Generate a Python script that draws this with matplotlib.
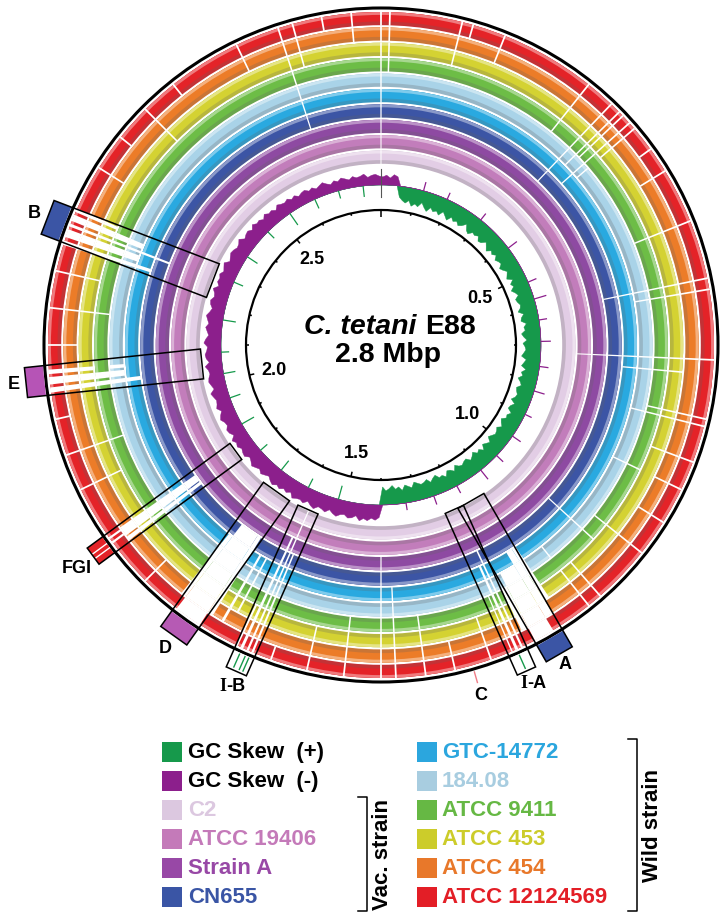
import numpy as np
import matplotlib.pyplot as plt
import matplotlib.colors as mcolors
from matplotlib.patches import Wedge, Circle, Polygon, Rectangle
from matplotlib.collections import LineCollection

plt.rcParams['font.family'] = ['Liberation Sans', 'DejaVu Sans']

GENOME = 2.8  # Mbp, C. tetani E88

# ---- BLAST rings, outermost first ----
ring_names = ['ATCC 12124569', 'ATCC 454', 'ATCC 453', 'ATCC 9411', '184.08',
              'GTC-14772', 'CN655', 'Strain A', 'ATCC 19406', 'C2']
ring_colors = ['#e42328', '#ec7c28', '#d4d232', '#6dbd46', '#a9d3e8',
               '#29a9e0', '#3c55a5', '#8e4aa2', '#c27dbb', '#e2cde5']

# regions without hits: start, end (Mbp), rings that miss it (0 = outermost)
gap_start = [2.236, 2.247, 2.262, 2.270, 2.283,
             2.036, 2.047, 2.061,
             1.806, 1.814, 1.816, 1.823,
             1.648, 1.656, 1.694, 1.618, 1.630,
             1.575, 1.582, 1.590, 1.598,
             1.138, 1.146, 1.158, 1.186,
             1.204, 1.211, 1.219]
gap_end = [2.242, 2.258, 2.266, 2.279, 2.288,
           2.043, 2.057, 2.067,
           1.812, 1.828, 1.819, 1.826,
           1.656, 1.694, 1.702, 1.621, 1.634,
           1.578, 1.585, 1.594, 1.601,
           1.146, 1.158, 1.186, 1.196,
           1.207, 1.215, 1.221]
gap_rings = ['012345', '01234', '0123456', '01234', '012',
             '012345', '01234', '0124',
             '123456', '123456', '0', '0',
             '123456', '0123456', '12345', '2345', '12345',
             '0123456', '0123456789', '01234567', '012',
             '2345', '12345', '01234', '123',
             '0123456', '012345', '0123']

# short single gaps (thin white lines)
line_gap_pos = [0.000, 0.012, 0.110, 0.125, 0.170, 0.300, 0.340, 0.355, 0.362,
                0.375, 0.385, 0.420, 0.455, 0.530, 0.610, 0.625, 0.720, 0.740,
                0.800, 0.810, 0.860, 0.900, 0.950, 1.000, 1.030, 1.080, 1.100,
                1.250, 1.300, 1.340, 1.380, 1.400, 1.450, 1.500, 1.550, 1.750,
                1.900, 1.950, 2.000, 2.100, 2.150, 2.200, 2.350, 2.400, 2.450,
                2.500, 2.600, 2.660, 2.680, 2.720, 2.760]
line_gap_rings = ['0123456789', '0123', '012', '0', '01', '0123', '0123456', '01234', '0123',
                  '012345', '0124', '0', '01', '0123', '0123456', '01234', '012345678', '2345',
                  '0123', '01234', '012', '0134', '01', '0123', '3456', '012', '0124',
                  '012', '01', '0123', '012345', '01234567', '0123', '012', '0', '01',
                  '012', '0123', '0', '01', '0123', '012', '01', '0', '012',
                  '0', '01', '0123456', '012', '0', '01']

# GC skew in 0.01 Mbp windows from position 0 (+ = green, - = purple)
gc_skew = [
    -0.45, -0.55, -0.40, -0.60, -0.50,
    0.55, 0.70, 0.80, 0.65, 0.90, 0.75, 0.85, 0.60, 0.80, 0.95,
    0.70, 0.85, 0.75, 0.90, 0.65, 0.80, 0.95, 0.70, 0.85, 0.75,
    0.90, 0.80, 0.60, 0.85, 0.95, 0.75, 0.80, 0.70, 0.90, 0.85,
    0.65, 0.80, 0.95, 0.75, 0.85, 0.70, 0.90, 0.80, 0.75, 0.95,
    0.85, 0.70, 0.80, 0.90, 0.65, 0.85, 0.75, 0.95, 0.80, 0.70,
    0.90, 0.85, 0.75, 0.80, 0.95, 0.70, 0.85, 0.90, 0.65, 0.80,
    0.75, 0.95, 0.85, 0.70, 0.90, 0.80, 0.75, 0.85, 0.95, 0.70,
    0.80, 0.90, 0.65, 0.85, 0.75, 0.95, 0.80, 0.70, 0.90, 0.85,
    0.75, 0.80, 0.95, 0.70, 0.85, 0.90, 0.65, 0.80, 0.75, 0.95,
    0.85, 0.70, 0.90, 0.80, 0.75, 0.85, 0.95, 0.70, 0.80, 0.90,
    0.65, 0.85, 0.75, 0.95, 0.80, 0.70, 0.90, 0.85, 0.75, 0.80,
    0.95, 0.70, 0.85, 0.90, 0.65, 0.80, 0.75, 0.95, 0.85, 0.70,
    0.90, 0.80, 0.75, 0.85, 0.95, 0.70, 0.80, 0.90, 0.65, 0.85,
    0.75, 0.95, 0.80, 0.70, 0.90,
    -0.70, -0.85, -0.75, -0.90, -0.80, -0.95, -0.70, -0.85, -0.90, -0.75,
    -0.80, -0.95, -0.85, -0.70, -0.90, -0.80, -0.75, -0.95, -0.85, -0.70,
    -0.90, -0.80, -0.85, -0.95, -0.70, -0.85, -0.75, -0.90, -0.80, -0.95,
    -0.85, -0.70, -0.80, -0.90, -0.75, -0.85, -0.95, -0.80, -0.70, -0.90,
    -0.85, -0.75, -0.90, -0.80, -0.95, -0.70, -0.85, -0.90, -0.75, -0.80,
    -0.95, -0.85, -0.70, -0.90, -0.80, -0.75, -0.85, -0.95, -0.70, -0.80,
    -0.90, -0.85, -0.75, -0.80, -0.95, -0.70, -0.85, -0.90, -0.80, -0.75,
    -0.95, -0.85, -0.70, -0.80, -0.90, -0.75, -0.85, -0.95, -0.80, -0.70,
    -0.85, -0.90, -0.75, -0.80, -0.95, -0.70, -0.85, -0.80, -0.90, -0.75,
    -0.85, -0.95, -0.70, -0.80, -0.90, -0.85, -0.75, -0.80, -0.95, -0.70,
    -0.80, -0.85, -0.70, -0.90, -0.75, -0.80, -0.65, -0.85, -0.70, -0.75,
    -0.60, -0.80, -0.70, -0.65, -0.75, -0.60, -0.70, -0.55, -0.65, -0.70,
    -0.55, -0.65, -0.50, -0.60, -0.70, -0.55, -0.45, -0.60, -0.50, -0.65,
    -0.55, -0.45, -0.60, -0.50, -0.55, -0.65, -0.45, -0.55, -0.60, -0.50,
]
# odd spikes of opposite sign
spike_out_pos = [0.12, 0.19, 0.30, 0.41, 0.52, 0.57, 0.63, 0.69, 0.76, 0.83,
                 0.90, 0.97, 1.04, 1.10, 1.18, 1.25, 1.33]
spike_out_val = [0.50, 0.40, 0.45, 0.60, 0.50, 0.70, 0.45, 0.55, 0.50, 0.60,
                 0.40, 0.55, 0.50, 0.65, 0.45, 0.50, 0.40]
spike_in_pos = [1.52, 1.61, 1.70, 1.78, 1.87, 1.95, 2.02, 2.08, 2.17, 2.28,
                2.36, 2.45, 2.53, 2.61, 2.68, 2.75]
spike_in_val = [0.70, 0.50, 0.60, 0.45, 0.70, 0.55, 0.60, 0.40, 0.65, 0.50,
                0.60, 0.45, 0.70, 0.50, 0.40, 0.55]

tick_major = [0.5, 1.0, 1.5, 2.0, 2.5]
tick_labels = ['0.5', '1.0', '1.5', '2.0', '2.5']

region_labels = ['B', 'E', 'FGI', 'D', 'I-B', 'I-A', 'A']
region_pos = [2.263, 2.053, 1.818, 1.676, 1.586, 1.213, 1.167]
region_fill = ['#3b55a5', '#b654b6', '#e42328', '#b65ab4', 'white', 'white', '#3b55a5']
c_pos = 1.276

legend_left = ['GC Skew  (+)', 'GC Skew  (-)', 'C2', 'ATCC 19406', 'Strain A', 'CN655']
legend_left_box = ['#16994b', '#8c1f8c', '#dcc8e0', '#c47ab9', '#9848a6', '#3a55a5']
legend_left_text = ['black', 'black', '#dcc8e0', '#c47ab9', '#9848a6', '#3a55a5']
legend_right = ['GTC-14772', '184.08', 'ATCC 9411', 'ATCC 453', 'ATCC 454', 'ATCC 12124569']
legend_right_col = ['#2ba6de', '#a8cde0', '#66b844', '#cccc2a', '#e8782a', '#e31e26']

GC_POS = '#16994b'
GC_NEG = '#8c1f8c'

# ---- layout (image pixels) ----
CX, CY = 381, 346
R_BLACK = 337
RING_OUT = 333
PITCH = 15.4
RING_W = 13.2
SKEW_BASE = 160
SKEW_IN, SKEW_OUT = 20, 18
R_INNER = 135
BOX_R1, BOX_R2 = 180, 357
box_w = [36, 30, 20, 32, 22, 20, 30]
label_r = [371, 369, 377, 372, 372, 370, 368]

fig = plt.figure(figsize=(7.28, 9.2), dpi=100)
ax = fig.add_axes([0, 0, 1, 1])
ax.set_xlim(-CX, 728 - CX)
ax.set_ylim(CY - 920, CY)
ax.axis('off')


def deg(p):
    return 90 - p / GENOME * 360


def xy(p, r):
    t = np.deg2rad(np.asarray(p) / GENOME * 360)
    return np.array([r * np.sin(t), r * np.cos(t)])


def band(p1, p2, r_in, r_out, color, z=1):
    ax.add_patch(Wedge((0, 0), r_out, deg(p2), deg(p1), width=r_out - r_in,
                       facecolor=color, edgecolor='none', zorder=z))


def mix(c, other, f):
    a = np.array(mcolors.to_rgb(c))
    b = np.array(mcolors.to_rgb(other))
    return tuple(a * (1 - f) + b * f)


def P(x, y):  # image pixel -> data coords
    return x - CX, CY - y


# rings with a bit of shading
for i, col in enumerate(ring_colors):
    r_out = RING_OUT - i * PITCH
    r_in = r_out - RING_W
    band(0, GENOME, r_in, r_out, mix(col, '#606060', 0.25))
    band(0, GENOME, r_in + 0.28 * RING_W, r_out, col)
    band(0, GENOME, r_out - 0.22 * RING_W, r_out, mix(col, 'white', 0.4))

for s, e, rings in zip(gap_start, gap_end, gap_rings):
    for ch in rings:
        r_out = RING_OUT - int(ch) * PITCH
        band(s, e, r_out - RING_W - 0.5, r_out + 0.5, 'white', z=2)

for p, rings in zip(line_gap_pos, line_gap_rings):
    for ch in rings:
        r_out = RING_OUT - int(ch) * PITCH
        band(p - 0.0012, p + 0.0012, r_out - RING_W - 0.5, r_out + 0.5, 'white', z=2)

# GC skew as filled profiles around the baseline circle
skew = np.array(gc_skew)
pc = (np.arange(len(skew)) + 0.5) * 0.01
pc = np.concatenate([pc, [pc[0] + GENOME]])
skew = np.concatenate([skew, [skew[0]]])
base = xy(pc, SKEW_BASE).T
for col, r_prof in ((GC_POS, SKEW_BASE - np.clip(skew, 0, None) * SKEW_IN),
                    (GC_NEG, SKEW_BASE + np.clip(-skew, 0, None) * SKEW_OUT)):
    prof = np.array([xy(p, r) for p, r in zip(pc, r_prof)])
    ax.add_patch(Polygon(np.vstack([base, prof[::-1]]), closed=True, facecolor=col,
                         edgecolor=col, linewidth=0.3, zorder=3))

segs = [[xy(p, SKEW_BASE), xy(p, SKEW_BASE + v * SKEW_OUT)] for p, v in zip(spike_out_pos, spike_out_val)]
ax.add_collection(LineCollection(segs, colors=GC_NEG, linewidths=0.9, zorder=3))
segs = [[xy(p, SKEW_BASE), xy(p, SKEW_BASE - v * SKEW_IN)] for p, v in zip(spike_in_pos, spike_in_val)]
ax.add_collection(LineCollection(segs, colors=GC_POS, linewidths=0.9, zorder=3))
ax.plot(*zip(xy(0, SKEW_BASE - 12), xy(0, SKEW_BASE + 16)), color='#555555', lw=0.8, zorder=3)

# inner scale circle
ax.add_patch(Circle((0, 0), R_INNER, fill=False, lw=1.6, edgecolor='black', zorder=4))
minor = np.round(np.arange(0, GENOME, 0.1), 2)
segs = []
for p in minor:
    ln = 7 if p == 0 else (5 if p in tick_major else 2.5)
    segs.append([xy(p, R_INNER), xy(p, R_INNER - ln)])
ax.add_collection(LineCollection(segs, colors='black', linewidths=1.1, zorder=4))
for p, lab in zip(tick_major, tick_labels):
    ax.text(*xy(p, 110), lab, ha='center', va='center', fontsize=13,
            fontweight='bold', zorder=6)

# outer black circle
ax.add_patch(Circle((0, 0), R_BLACK, fill=False, lw=2.2, edgecolor='black', zorder=4))

# centre title
fig.canvas.draw()
rend = fig.canvas.get_renderer()
t1 = ax.text(0, 0, 'C. tetani ', fontsize=20.5, fontweight='bold', style='italic',
             ha='left', va='baseline')
t2 = ax.text(0, 0, 'E88', fontsize=20.5, fontweight='bold', ha='left', va='baseline')
w1 = t1.get_window_extent(rend).width
w2 = t2.get_window_extent(rend).width
x0, yb = P(390 - (w1 + w2) / 2, 334)
t1.set_position((x0, yb))
t2.set_position((x0 + w1, yb))
ax.text(*P(388, 355), '2.8 Mbp', fontsize=20.5, fontweight='bold', ha='center', va='center')

# boxed regions
for lab, p, w, fc, lr in zip(region_labels, region_pos, box_w, region_fill, label_r):
    t = np.deg2rad(p / GENOME * 360)
    u = np.array([np.sin(t), np.cos(t)])
    v = np.array([np.cos(t), -np.sin(t)])
    end = [(R_BLACK + 1.5) * u - w / 2 * v, BOX_R2 * u - w / 2 * v,
           BOX_R2 * u + w / 2 * v, (R_BLACK + 1.5) * u + w / 2 * v]
    ax.add_patch(Polygon(end, closed=True, facecolor=fc, edgecolor='none', zorder=5))
    if lab == 'FGI':
        for off in (-3, 2):
            ax.plot(*zip(off * v + (R_BLACK + 2) * u, off * v + BOX_R2 * u), color='white', lw=1, zorder=5)
    if lab in ('I-B', 'I-A'):
        offs = (-6, -2, 4) if lab == 'I-B' else (0,)
        for off in offs:
            ax.plot(*zip(off * v + (R_BLACK + 3) * u, off * v + (BOX_R2 - 3) * u), color=GC_POS, lw=1, zorder=5)
    box = [BOX_R1 * u - w / 2 * v, BOX_R2 * u - w / 2 * v,
           BOX_R2 * u + w / 2 * v, BOX_R1 * u + w / 2 * v]
    ax.add_patch(Polygon(box, closed=True, fill=False, edgecolor='black', lw=1.1, zorder=5))
    lx, ly = xy(p, lr)
    if lab.startswith('I-'):
        ax.text(lx - 4, ly, 'I', family='Liberation Serif', fontsize=13, fontweight='bold',
                ha='right', va='center', zorder=6)
        ax.text(lx - 4, ly, '-' + lab[2:], fontsize=13, fontweight='bold',
                ha='left', va='center', zorder=6)
    else:
        ax.text(lx, ly, lab, fontsize=13, fontweight='bold', ha='center', va='center', zorder=6)

# C: short red mark outside the circle
ax.plot(*zip(xy(c_pos, R_BLACK + 3), xy(c_pos, 351)), color='#f07c86', lw=1, zorder=5)
ax.text(*xy(c_pos, 364), 'C', fontsize=13, fontweight='bold', ha='center', va='center')

# legend
row_y = [753, 782, 811, 840, 869, 898]
for y, lab, bc, tc in zip(row_y, legend_left, legend_left_box, legend_left_text):
    ax.add_patch(Rectangle(P(162, y + 10), 20, 20, facecolor=bc, edgecolor='none'))
    ax.text(*P(188, y), lab, color=tc, fontsize=16, fontweight='bold', va='center', ha='left')
for y, lab, c in zip(row_y, legend_right, legend_right_col):
    ax.add_patch(Rectangle(P(417, y + 10), 20, 20, facecolor=c, edgecolor='none'))
    ax.text(*P(442, y), lab, color=c, fontsize=16, fontweight='bold', va='center', ha='left')

ax.plot(*zip(P(358, 798), P(367, 798), P(367, 912), P(358, 912)), color='black', lw=1.1)
ax.text(*P(382, 855), 'Vac. strain', rotation=90, fontsize=16, fontweight='bold',
        ha='center', va='center')
ax.plot(*zip(P(628, 740), P(637, 740), P(637, 912), P(628, 912)), color='black', lw=1.1)
ax.text(*P(653, 826), 'Wild strain', rotation=90, fontsize=16, fontweight='bold',
        ha='center', va='center')

fig.savefig('out.png', dpi=100)
